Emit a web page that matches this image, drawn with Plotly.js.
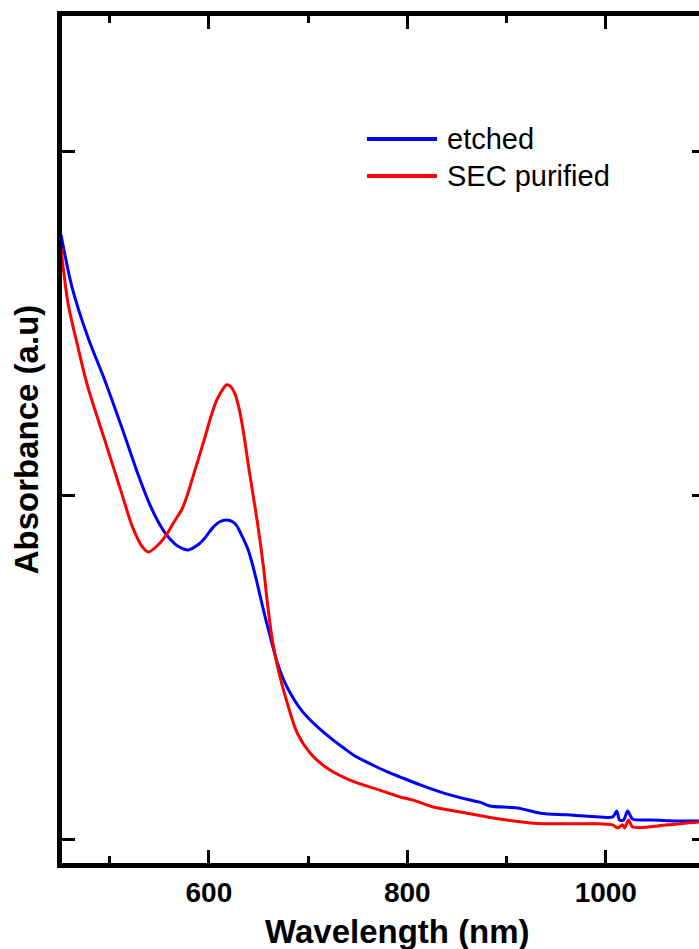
<!DOCTYPE html>
<html>
<head>
<meta charset="utf-8">
<script src="https://cdn.plot.ly/plotly-3.0.1.min.js"></script>
<style>
html,body{margin:0;padding:0;overflow:hidden;background:#fff;}
#chart{width:710px;height:949px;}
</style>
</head>
<body>
<div id="chart"></div>
<script>
// Wavelength (nm) and absorbance (a.u.)
const etchedWavelength = [451, 462, 478, 495, 512, 529, 539, 548, 556, 566, 572, 579, 589, 596, 604, 611, 618, 624, 628, 634, 640, 644, 648, 652, 657, 662, 669, 675, 682, 690, 699, 712, 725, 737, 749, 765, 780, 793, 813, 833, 843, 863, 873, 883, 911, 934, 961, 994, 1007, 1011, 1014, 1018, 1022, 1027, 1045, 1078, 1094, 1100];
const etchedAbs = [1.759, 1.608, 1.462, 1.337, 1.201, 1.060, 0.985, 0.930, 0.892, 0.860, 0.849, 0.843, 0.858, 0.878, 0.908, 0.925, 0.930, 0.925, 0.914, 0.880, 0.840, 0.800, 0.755, 0.705, 0.645, 0.590, 0.515, 0.468, 0.427, 0.390, 0.358, 0.322, 0.291, 0.265, 0.241, 0.218, 0.198, 0.183, 0.160, 0.140, 0.131, 0.116, 0.110, 0.099, 0.093, 0.078, 0.073, 0.067, 0.067, 0.084, 0.058, 0.058, 0.084, 0.061, 0.058, 0.055, 0.055, 0.055];

const secWavelength = [451, 458, 468, 478, 495, 512, 523, 533, 539, 549, 559, 564, 573, 578, 586, 596, 602, 608, 614, 618, 622, 626, 630, 634, 641, 649, 655, 659, 664, 670, 679, 689, 702, 719, 742, 772, 793, 806, 826, 860, 893, 927, 961, 994, 1007, 1012, 1017, 1019, 1023, 1027, 1062, 1094, 1100];
const secAbs = [1.721, 1.561, 1.433, 1.317, 1.163, 1.009, 0.910, 0.852, 0.837, 0.858, 0.895, 0.920, 0.962, 1.000, 1.075, 1.170, 1.230, 1.279, 1.310, 1.323, 1.318, 1.299, 1.260, 1.201, 1.067, 0.922, 0.794, 0.689, 0.581, 0.494, 0.398, 0.311, 0.253, 0.209, 0.174, 0.145, 0.125, 0.116, 0.096, 0.078, 0.061, 0.049, 0.047, 0.047, 0.044, 0.035, 0.044, 0.035, 0.058, 0.038, 0.044, 0.052, 0.052];

const seriesNames = ['etched', 'SEC purified'];
const seriesColors = ['#0000ff', '#ff0000'];
const xTickVals = [600, 800, 1000];
const xMinorTickVals = [500, 700, 900, 1100];
const yTickVals = [0, 1, 2];

const fontFamily = '"Liberation Sans", Arial, sans-serif';

const traces = [
  {x: etchedWavelength, y: etchedAbs, name: seriesNames[0], type: 'scatter', mode: 'lines',
   line: {color: seriesColors[0], width: 3, shape: 'spline', smoothing: 0.8}},
  {x: secWavelength, y: secAbs, name: seriesNames[1], type: 'scatter', mode: 'lines',
   line: {color: seriesColors[1], width: 3, shape: 'spline', smoothing: 0.8}}
];

const PL = 62, PR = 705, PT = 16, PB = 863;
const px = v => (v - PL) / (PR - PL);
const py = v => (PB - v) / (PB - PT);

const legendRows = [139, 176];
const shapes = [], annotations = [];
seriesNames.forEach((n, i) => {
  shapes.push({type: 'line', xref: 'paper', yref: 'paper',
    x0: px(367), x1: px(437), y0: py(legendRows[i]), y1: py(legendRows[i]),
    line: {color: seriesColors[i], width: 4}});
  annotations.push({xref: 'paper', yref: 'paper', x: px(445), y: py(legendRows[i]),
    xanchor: 'left', yanchor: 'middle', showarrow: false, text: n,
    font: {family: fontFamily, size: 29, color: '#000'}});
});
// x-axis title placed to match the reference's horizontal centre
annotations.push({xref: 'paper', yref: 'paper', x: px(397), y: py(931),
  xanchor: 'center', yanchor: 'middle', showarrow: false, text: 'Wavelength (nm)',
  font: {family: fontFamily, size: 33, weight: 'bold', color: '#000'}});

const layout = {
  width: 710, height: 949,
  margin: {l: PL, r: 710 - PR, t: PT, b: 949 - PB},
  paper_bgcolor: '#fff', plot_bgcolor: '#fff',
  showlegend: false,
  font: {family: fontFamily, color: '#000'},
  xaxis: {
    range: [452, 1100],
    tickmode: 'array', tickvals: xTickVals,
    ticks: 'inside', ticklen: 13, tickwidth: 3, tickcolor: '#000',
    minor: {tickvals: xMinorTickVals, ticks: 'inside', ticklen: 7, tickwidth: 3, tickcolor: '#000'},
    showline: true, linewidth: 5, linecolor: '#000', mirror: 'ticks',
    showgrid: false, zeroline: false,
    tickfont: {family: fontFamily, size: 28, weight: 'bold', color: '#000'}
  },
  yaxis: {
    range: [-0.0669, 2.395],
    tickmode: 'array', tickvals: yTickVals, showticklabels: false,
    ticks: 'inside', ticklen: 13, tickwidth: 3, tickcolor: '#000',
    showline: true, linewidth: 5, linecolor: '#000', mirror: 'ticks',
    showgrid: false, zeroline: false,
    title: {text: 'Absorbance (a.u)', standoff: 10,
      font: {family: fontFamily, size: 33, weight: 'bold', color: '#000'}}
  },
  shapes: shapes,
  annotations: annotations
};

Plotly.newPlot('chart', traces, layout, {displayModeBar: false, staticPlot: true});
</script>
</body>
</html>
